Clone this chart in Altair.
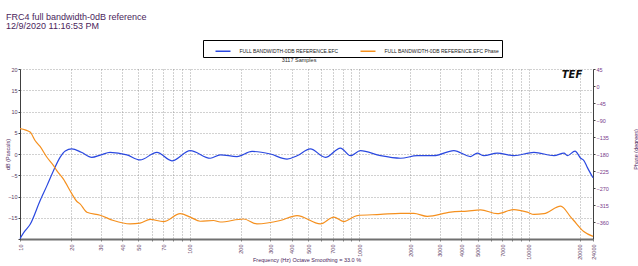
import altair as alt
import pandas as pd

# ---- data ----
freq_db = [10, 10.7, 11.46, 13.13, 14.4, 15.73, 17.23, 18.5, 20.2, 23, 26.5, 30, 34, 42.7,
           51.1, 64.2, 78.7, 101, 132.6, 151.8, 190.5, 233.7, 299.7, 376, 431, 516, 633,
           777, 890, 1019, 1338, 1756, 2204, 2762, 3626, 4550, 4984, 5452, 6543, 8199,
           10760, 14130, 16190, 16950, 18800, 20310, 21160, 22250, 24000]
db_vals = [-19.9, -18.1, -16.6, -11.0, -7.5, -4.0, -0.8, 0.7, 1.2, 0.4, -0.8, -0.2, 0.4, -0.2,
           -1.4, 0.4, -1.6, 0.8, -1.0, -0.2, -0.6, 0.6, 0.0, -1.2, -0.4, 1.2, -0.8,
           1.4, -0.4, 0.8, -0.4, -1.0, -0.4, -0.4, 0.8, -0.6, 0.2, -0.4, 0.2, -0.4,
           0.4, -0.4, 0.2, -0.4, 0.7, -1.0, -1.5, -3.2, -5.6]

freq_ph = [10, 11.46, 12.3, 13.13, 14.38, 15.73, 16.48, 18.0, 20.2, 21.6, 22.6, 24.8, 29.7,
           35.6, 44.6, 51.1, 58.6, 70.2, 88.1, 101, 115.7, 138.6, 151.8, 208.4, 250, 343,
           431, 592, 709, 812, 974, 1338, 1756, 2104, 2525, 3467, 4350, 5213, 6543, 8199,
           9838, 10760, 12330, 15470, 17740, 18470, 21160, 24000]
ph_vals = [-113, -122, -145, -160, -188, -210, -224, -246, -285, -305, -312, -334, -342,
           -356, -365, -363, -353, -359, -338, -347, -358, -356, -360, -352, -365, -356,
           -343, -365, -347, -359, -343, -340, -337, -337, -345, -334, -331, -328, -338, -327,
           -334, -340, -338, -318, -347, -356, -385, -398]

series_names = ["FULL BANDWIDTH-0DB REFERENCE.EFC", "FULL BANDWIDTH-0DB REFERENCE.EFC Phase"]
series_colors = ["#2a48e0", "#f5901e"]

grid_x = [10, 20, 30, 40, 50, 60, 70, 80, 90, 100, 200, 300, 400, 500, 600, 700, 800, 900,
          1000, 2000, 3000, 4000, 5000, 6000, 7000, 8000, 9000, 10000, 20000, 24000]
label_x = [10, 20, 30, 40, 50, 70, 100, 200, 300, 400, 500, 700, 1000, 2000, 3000, 4000,
           5000, 7000, 10000, 20000, 24000]
db_ticks = [20, 15, 10, 5, 0, -5, -10, -15, -20]
ph_ticks = [45, 0, -45, -90, -135, -180, -225, -270, -315, -360]

title_lines = ["FRC4 full bandwidth-0dB reference", "12/9/2020 11:16:53 PM"]
samples_text = "3117 Samples"
x_title = "Frequency (Hz) Octave Smoothing = 33.0 %"

FONT = "Liberation Sans"
PURPLE = "#4a1e5c"

df_db = pd.DataFrame({"f": freq_db, "v": db_vals, "s": series_names[0]})
df_ph = pd.DataFrame({"f": freq_ph, "v": ph_vals, "s": series_names[1]})

label_arr = "[" + ",".join(str(v) for v in label_x) + "]"

x_enc = alt.X("f:Q", scale=alt.Scale(type="log", domain=[10, 24000], nice=False),
              axis=alt.Axis(values=grid_x, format="d",
                            labelExpr=f"indexof({label_arr}, datum.value) >= 0 ? datum.label : ''",
                            labelAngle=270, labelFontSize=5.5, labelColor="#5a3a60",
                            labelPadding=3, labelOverlap=False, labelFlush=False, labelBound=False,
                            tickSize=2, tickColor="#808080",
                            domainColor="#707070", domainWidth=2,
                            grid=True, gridDash=[1, 2], gridColor="#8a8a8a", gridWidth=0.8,
                            title=x_title, titleFontSize=5.5, titleFontWeight="normal",
                            titleColor=PURPLE, titleY=20, titleBaseline="middle"))

color_enc = alt.Color("s:N", scale=alt.Scale(domain=series_names, range=series_colors),
                      legend=alt.Legend(orient="none", legendX=183, legendY=-29,
                                        direction="horizontal", title=None,
                                        symbolType="stroke", symbolSize=225,
                                        symbolStrokeWidth=1.5, symbolOffset=9,
                                        labelFontSize=5, labelColor="#202020", labelLimit=400,
                                        labelOffset=8, columnPadding=12,
                                        strokeColor="#000000", padding=2.5,
                                        fillColor="#ffffff"))

line_db = alt.Chart(df_db).mark_line(strokeWidth=1.2, interpolate="monotone").encode(
    x=x_enc,
    y=alt.Y("v:Q", scale=alt.Scale(domain=[-20, 20], nice=False),
            axis=alt.Axis(values=db_ticks, orient="left",
                          labelExpr="datum.value == -20 ? '' : datum.label",
                          labelFontSize=5.5, labelColor="#5a3a60", labelPadding=1,
                          tickSize=2, tickColor="#404040",
                          domainColor="#404040", domainWidth=1,
                          grid=True, gridDash=[1, 2], gridColor="#8a8a8a", gridWidth=0.8,
                          title="dB (Pascals)", titleFontSize=5.5, titleFontWeight="normal",
                          titleColor=PURPLE, titleX=-13, titleY=85, titleAngle=270,
                          titleAlign="center", titleBaseline="middle")),
    color=color_enc,
)

line_ph = alt.Chart(df_ph).mark_line(strokeWidth=1.2, interpolate="monotone").encode(
    x=x_enc,
    y=alt.Y("v:Q", scale=alt.Scale(domain=[-405, 45], nice=False),
            axis=alt.Axis(values=ph_ticks, orient="right",
                          labelFontSize=5.5, labelColor="#7a3a8a", labelPadding=1,
                          tickSize=2, tickColor="#404040",
                          domainColor="#404040", domainWidth=1, grid=False,
                          title="Phase (degrees)", titleFontSize=5.5, titleFontWeight="normal",
                          titleColor=PURPLE, titleX=42, titleY=80, titleAngle=270,
                          titleAlign="center", titleBaseline="middle")),
    color=color_enc,
)

hdr1 = alt.Chart(pd.DataFrame({"t": [title_lines[0]]})).mark_text(
    align="left", baseline="middle", fontSize=9, font=FONT, color=PURPLE
).encode(text="t:N", x=alt.value(-14), y=alt.value(-52))
hdr2 = alt.Chart(pd.DataFrame({"t": [title_lines[1]]})).mark_text(
    align="left", baseline="middle", fontSize=9, font=FONT, color=PURPLE
).encode(text="t:N", x=alt.value(-14), y=alt.value(-43))
samples = alt.Chart(pd.DataFrame({"t": [samples_text]})).mark_text(
    align="center", baseline="middle", fontSize=5.5, font=FONT, color="#303030"
).encode(text="t:N", x=alt.value(279), y=alt.value(-9.5))
logo = alt.Chart(pd.DataFrame({"t": ["TEF"]})).mark_text(
    align="center", baseline="middle", fontSize=10, font="DejaVu Sans", fontWeight="bold",
    fontStyle="italic", color="#101010"
).encode(text="t:N", x=alt.value(552), y=alt.value(6))

chart = alt.layer(line_db, line_ph, hdr1, hdr2, samples, logo).resolve_scale(
    y="independent"
).properties(
    width=573, height=170,
    autosize=alt.AutoSizeParams(type="none"),
    padding={"left": 20, "top": 69, "right": 45, "bottom": 27},
).configure(font=FONT).configure_view(stroke=None)

chart.save("out.html", embed_options={"renderer": "svg", "actions": False})
